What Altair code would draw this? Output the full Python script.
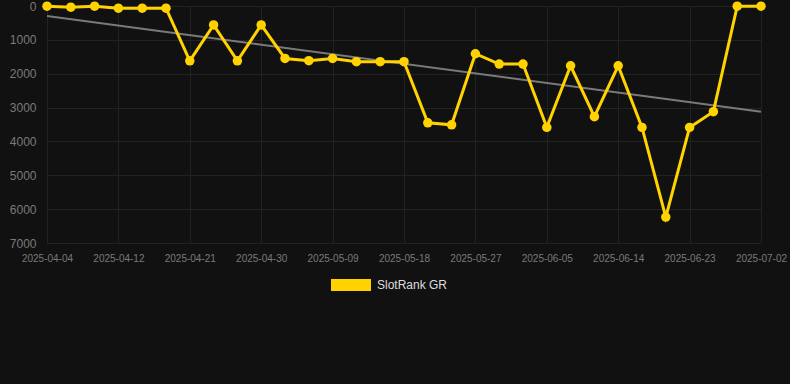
import altair as alt
import pandas as pd

# ---- data ----
dates = [
    "2025-04-04", "2025-04-06", "2025-04-09", "2025-04-12", "2025-04-15", "2025-04-18",
    "2025-04-21", "2025-04-24", "2025-04-27", "2025-04-30", "2025-05-03", "2025-05-06",
    "2025-05-09", "2025-05-12", "2025-05-15", "2025-05-18", "2025-05-21", "2025-05-24",
    "2025-05-27", "2025-05-30", "2025-06-02", "2025-06-05", "2025-06-08", "2025-06-11",
    "2025-06-14", "2025-06-17", "2025-06-20", "2025-06-23", "2025-06-26", "2025-06-29",
    "2025-07-02",
]
ranks = [
    5, 35, 5, 65, 65, 65,
    1620, 560, 1620, 560, 1550, 1615,
    1550, 1645, 1645, 1645, 3450, 3510,
    1410, 1715, 1715, 3585, 1765, 3270,
    1765, 3585, 6235, 3585, 3120, 5,
    5,
]
series_name = "SlotRank GR"
y_ticks = [0, 1000, 2000, 3000, 4000, 5000, 6000, 7000]
x_tick_idx = [0, 3, 6, 9, 12, 15, 18, 21, 24, 27, 30]

YELLOW = "#FFD200"
BG = "#111111"
GRID = "#222222"
LABEL = "#7a7a7a"
FONT = "Liberation Sans"

df = pd.DataFrame({
    "i": list(range(len(dates))),
    "date": dates,
    "rank": ranks,
    "series": [series_name] * len(dates),
})

label_expr = "[" + ",".join(f"'{d}'" for d in dates) + "][datum.value]"

x = alt.X(
    "i:Q",
    scale=alt.Scale(domain=[0, len(dates) - 1], nice=False, zero=False),
    axis=alt.Axis(
        values=x_tick_idx, labelExpr=label_expr, title=None, ticks=False, domain=False,
        labelPadding=10, labelFontSize=10, labelColor=LABEL, labelFont=FONT,
        gridColor=GRID, labelOverlap=False, labelBound=False, labelFlush=False,
    ),
)
y = alt.Y(
    "rank:Q",
    scale=alt.Scale(domain=[0, 7000], reverse=True, nice=False, zero=False),
    axis=alt.Axis(
        values=y_ticks, format="d", title=None, ticks=False, domain=False, labelPadding=11,
        labelFontSize=12, labelColor=LABEL, labelFont=FONT, gridColor=GRID,
    ),
)

base = alt.Chart(df)

trend = base.transform_regression(
    "i", "rank", method="linear", extent=[0, len(dates) - 1]
).mark_line(color="#7a7a7a", strokeWidth=2).encode(x=x, y=y)

line = base.mark_line(color=YELLOW, strokeWidth=3).encode(x=x, y=y)

pts = base.mark_circle(size=90, opacity=1).encode(
    x=x,
    y=y,
    color=alt.Color(
        "series:N",
        scale=alt.Scale(domain=[series_name], range=[YELLOW]),
        legend=alt.Legend(
            orient="none", legendX=284, legendY=259, title=None,
            symbolType="M-1,-0.3H1V0.3H-1Z", symbolSize=1600, symbolOpacity=1,
            symbolStrokeWidth=0, labelFontSize=12, labelColor="#dddddd",
            labelFont=FONT, labelOffset=6, padding=0,
        ),
    ),
)

chart = alt.layer(trend, line, pts).properties(
    width=714,
    height=237,
    background=BG,
    padding={"left": 47, "top": 6, "right": 29, "bottom": 141},
    autosize=alt.AutoSizeParams(type="none"),
).configure_view(stroke=None)

chart.save("out.html", embed_options={"renderer": "svg", "actions": False})
